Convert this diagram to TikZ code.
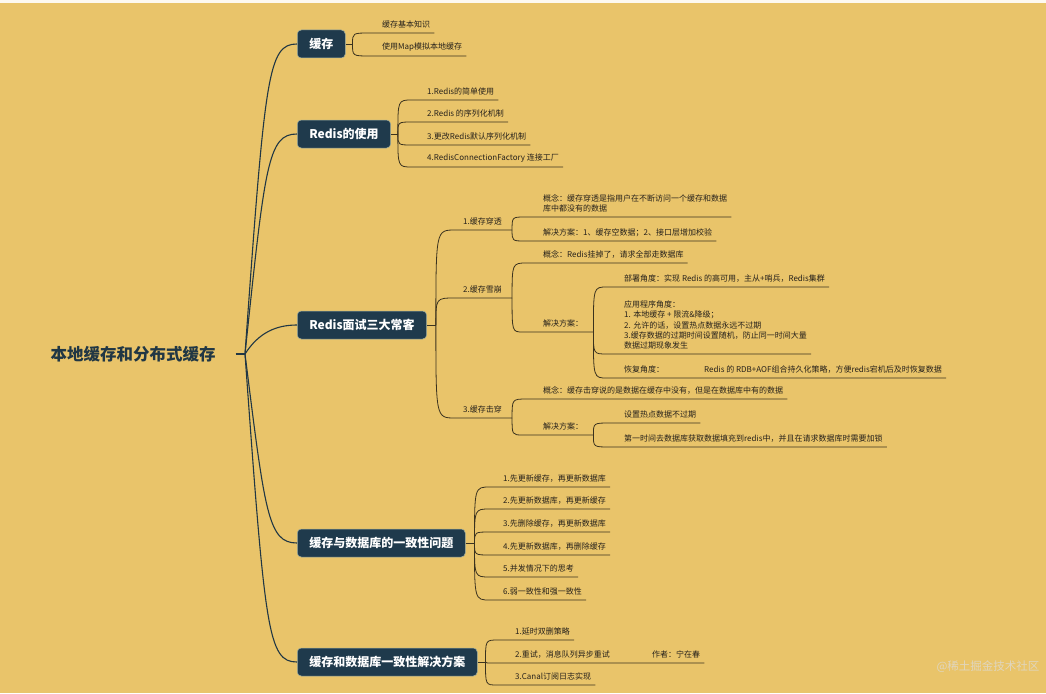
\documentclass[tikz,border=0pt]{standalone}
\usepackage{fontspec}
\setmainfont{Noto Sans CJK SC}
\usepackage{xcolor}
\usepackage{tikz}
\usetikzlibrary{calc}

\definecolor{paper}{RGB}{233,196,106}
\definecolor{topicfill}{RGB}{31,58,76}
\definecolor{topicedge}{RGB}{160,175,160}
\definecolor{trunk}{RGB}{33,55,68}
\definecolor{twig}{RGB}{58,50,30}
\definecolor{ink}{RGB}{38,33,27}
\definecolor{wmark}{RGB}{224,214,190}

\begin{document}
\begin{tikzpicture}[
  x=1pt, y=-1pt,
  hubtext/.style={font=\fontsize{16.5}{18}\selectfont\bfseries, text=trunk, inner xsep=20pt},
  topic/.style={rectangle, rounded corners=4pt, fill=topicfill, draw=topicedge, line width=0.5pt,
                text=white, font=\fontsize{12}{14}\selectfont\bfseries,
                inner xsep=12pt, minimum height=28pt, anchor=west},
  leaf/.style={anchor=south west, align=left, text=ink, inner xsep=4pt, inner ysep=0.5pt,
               font=\fontsize{8}{10.3}\selectfont},
  mainline/.style={draw=trunk, line width=1.1pt},
  subline/.style={draw=twig, line width=0.8pt}
]
%% paper
\fill[paper] (0,0) rectangle (1046,693);
\fill[white!90!paper] (0,0) rectangle (1046,3);
\useasboundingbox (0,0) rectangle (1046,693);

%% centre topic and main topics
\node[hubtext] (center) at (133,354) {本地缓存和分布式缓存};
\coordinate (hub) at (245,354);
\node[topic] (c1) at (297,44)  {缓存};
\node[topic] (c2) at (297,134) {Redis的使用};
\node[topic] (c3) at (297,325) {Redis面试三大常客};
\node[topic] (c4) at (297,543) {缓存与数据库的一致性问题};
\node[topic] (c5) at (297,662) {缓存和数据库一致性解决方案};
\draw[mainline] (center.east) -- (hub);
\draw[mainline] (hub) .. controls +(20,-280) and +(-29,0) .. (c1.west);
\draw[mainline] (hub) .. controls +(20,-190) and +(-29,0) .. (c2.west);
\draw[mainline] (hub) .. controls +(14,-22) and +(-20,0) .. (c3.west);
\draw[mainline] (hub) .. controls +(20,159) and +(-29,0) .. (c4.west);
\draw[mainline] (hub) .. controls +(20,278) and +(-29,0) .. (c5.west);

%% 缓存
\draw[subline] (c1.east) -- ++(7,0) coordinate (c1f);
\coordinate (a1) at (370,33);
\coordinate (a2) at (370,56);
\node[leaf] (a1t) at ($(a1)+(8,-4)$) {缓存基本知识};
\node[leaf] (a2t) at ($(a2)+(8,-4)$) {使用Map模拟本地缓存};
\draw[subline] (c1f) .. controls (c1f |- a1) .. (a1) -- (a1 -| a1t.east);
\draw[subline] (c1f) .. controls (c1f |- a2) .. (a2) -- (a2 -| a2t.east);

%% Redis的使用
\draw[subline] (c2.east) -- ++(7,0) coordinate (c2f);
\coordinate (b1) at (412,100);
\coordinate (b2) at (412,122);
\coordinate (b3) at (412,145);
\coordinate (b4) at (412,167);
\node[leaf] (b1t) at ($(b1)+(11,-4)$) {1.Redis的简单使用};
\node[leaf] (b2t) at ($(b2)+(11,-4)$) {2.Redis 的序列化机制};
\node[leaf] (b3t) at ($(b3)+(11,-4)$) {3.更改Redis默认序列化机制};
\node[leaf] (b4t) at ($(b4)+(11,-4)$) {4.RedisConnectionFactory 连接工厂};
\draw[subline] (c2f) .. controls (c2f |- b1) .. (b1) -- (b1 -| b1t.east);
\draw[subline] (c2f) .. controls (c2f |- b2) .. (b2) -- (b2 -| b2t.east);
\draw[subline] (c2f) .. controls (c2f |- b3) .. (b3) -- (b3 -| b3t.east);
\draw[subline] (c2f) .. controls (c2f |- b4) .. (b4) -- (b4 -| b4t.east);

%% Redis面试三大常客
\draw[subline] (c3.east) -- ++(9,0) coordinate (c3f);
\coordinate (d1) at (455,230);
\coordinate (d2) at (455,298);
\coordinate (d3) at (455,418);
\node[leaf] (d1t) at ($(d1)+(4,-4)$) {1.缓存穿透};
\node[leaf] (d2t) at ($(d2)+(4,-4)$) {2.缓存雪崩};
\node[leaf] (d3t) at ($(d3)+(4,-4)$) {3.缓存击穿};
\draw[subline] (c3f) .. controls (c3f |- d1) .. (d1) -- ($(d1 -| d1t.east)+(6,0)$) coordinate (d1f);
\draw[subline] (c3f) .. controls (c3f |- d2) .. (d2) -- ($(d2 -| d2t.east)+(6,0)$) coordinate (d2f);
\draw[subline] (c3f) .. controls (c3f |- d3) .. (d3) -- ($(d3 -| d3t.east)+(6,0)$) coordinate (d3f);
% 缓存穿透
\coordinate (d11) at (525,217);
\coordinate (d12) at (525,241);
\node[leaf] (d11t) at ($(d11)+(14,-4)$) {概念：缓存穿透是指用户在不断访问一个缓存和数据\\库中都没有的数据};
\node[leaf] (d12t) at ($(d12)+(14,-4)$) {解决方案：1、缓存空数据；2、接口层增加校验};
\draw[subline] (d1f) .. controls (d1f |- d11) .. (d11) -- (d11 -| d11t.east);
\draw[subline] (d1f) .. controls (d1f |- d12) .. (d12) -- (d12 -| d12t.east);
% 缓存雪崩
\coordinate (d21) at (527,263);
\coordinate (d22) at (523,332);
\node[leaf] (d21t) at ($(d21)+(12,-4)$) {概念：Redis挂掉了，请求全部走数据库};
\node[leaf] (d22t) at ($(d22)+(16,-4)$) {解决方案：};
\draw[subline] (d2f) .. controls (d2f |- d21) .. (d21) -- (d21 -| d21t.east);
\draw[subline] (d2f) .. controls (d2f |- d22) .. (d22) -- ($(d22 -| d22t.east)+(6,0)$) coordinate (d22f);
\coordinate (d221) at (607,287);
\coordinate (d222) at (607,354);
\coordinate (d223) at (607,378);
\node[leaf] (d221t) at ($(d221)+(13,-4)$) {部署角度：实现 Redis 的高可用，主从+哨兵，Redis集群};
\node[leaf] (d222t) at ($(d222)+(13,-4)$) {应用程序角度：\\1. 本地缓存 + 限流\&降级；\\2. 允许的话，设置热点数据永远不过期\\3.缓存数据的过期时间设置随机，防止同一时间大量\\数据过期现象发生};
\node[leaf] (d223t) at ($(d223)+(13,-4)$) {\makebox[80pt][l]{恢复角度：}Redis 的 RDB+AOF组合持久化策略，方便redis宕机后及时恢复数据};
\draw[subline] (d22f) .. controls (d22f |- d221) .. (d221) -- (d221 -| d221t.east);
\draw[subline] (d22f) .. controls (d22f |- d222) .. (d222) -- (d222 -| d222t.east);
\draw[subline] (d22f) .. controls (d22f |- d223) .. (d223) -- (d223 -| d223t.east);
% 缓存击穿
\coordinate (d31) at (527,399);
\coordinate (d32) at (523,435);
\node[leaf] (d31t) at ($(d31)+(12,-4)$) {概念：缓存击穿说的是数据在缓存中没有，但是在数据库中有的数据};
\node[leaf] (d32t) at ($(d32)+(16,-4)$) {解决方案：};
\draw[subline] (d3f) .. controls (d3f |- d31) .. (d31) -- (d31 -| d31t.east);
\draw[subline] (d3f) .. controls (d3f |- d32) .. (d32) -- ($(d32 -| d32t.east)+(6,0)$) coordinate (d32f);
\coordinate (d321) at (610,423);
\coordinate (d322) at (610,447);
\node[leaf] (d321t) at ($(d321)+(10,-4)$) {设置热点数据不过期};
\node[leaf] (d322t) at ($(d322)+(10,-4)$) {第一时间去数据库获取数据填充到redis中，并且在请求数据库时需要加锁};
\draw[subline] (d32f) .. controls (d32f |- d321) .. (d321) -- (d321 -| d321t.east);
\draw[subline] (d32f) .. controls (d32f |- d322) .. (d322) -- (d322 -| d322t.east);

%% 缓存与数据库的一致性问题
\draw[subline] (c4.east) -- ++(9,0) coordinate (c4f);
\coordinate (e1) at (490,487);
\coordinate (e2) at (490,509);
\coordinate (e3) at (490,532);
\coordinate (e4) at (490,555);
\coordinate (e5) at (490,577);
\coordinate (e6) at (490,600);
\node[leaf] (e1t) at ($(e1)+(9,-4)$) {1.先更新缓存，再更新数据库};
\node[leaf] (e2t) at ($(e2)+(9,-4)$) {2.先更新数据库，再更新缓存};
\node[leaf] (e3t) at ($(e3)+(9,-4)$) {3.先删除缓存，再更新数据库};
\node[leaf] (e4t) at ($(e4)+(9,-4)$) {4.先更新数据库，再删除缓存};
\node[leaf] (e5t) at ($(e5)+(9,-4)$) {5.并发情况下的思考};
\node[leaf] (e6t) at ($(e6)+(9,-4)$) {6.弱一致性和强一致性};
\draw[subline] (c4f) .. controls (c4f |- e1) .. (e1) -- (e1 -| e1t.east);
\draw[subline] (c4f) .. controls (c4f |- e2) .. (e2) -- (e2 -| e2t.east);
\draw[subline] (c4f) .. controls (c4f |- e3) .. (e3) -- (e3 -| e3t.east);
\draw[subline] (c4f) .. controls (c4f |- e4) .. (e4) -- (e4 -| e4t.east);
\draw[subline] (c4f) .. controls (c4f |- e5) .. (e5) -- (e5 -| e5t.east);
\draw[subline] (c4f) .. controls (c4f |- e6) .. (e6) -- (e6 -| e6t.east);

%% 缓存和数据库一致性解决方案
\draw[subline] (c5.east) -- ++(8,0) coordinate (c5f);
\coordinate (f1) at (498,640);
\coordinate (f2) at (497,663);
\coordinate (f3) at (497,685);
\node[leaf] (f1t) at ($(f1)+(13,-4)$) {1.延时双删策略};
\node[leaf] (f2t) at ($(f2)+(14,-4)$) {\makebox[137pt][l]{2.重试，消息队列异步重试}作者：宁在春};
\node[leaf] (f3t) at ($(f3)+(14,-4)$) {3.Canal订阅日志实现};
\draw[subline] (c5f) .. controls (c5f |- f1) .. (f1) -- (f1 -| f1t.east);
\draw[subline] (c5f) .. controls (c5f |- f2) .. (f2) -- (f2 -| f2t.east);
\draw[subline] (c5f) .. controls (c5f |- f3) .. (f3) -- (f3 -| f3t.east);

%% watermark
\node[font=\fontsize{11.5}{13}\selectfont, text=wmark] (wm) at (988,667) {@稀土掘金技术社区};
\end{tikzpicture}
\end{document}
